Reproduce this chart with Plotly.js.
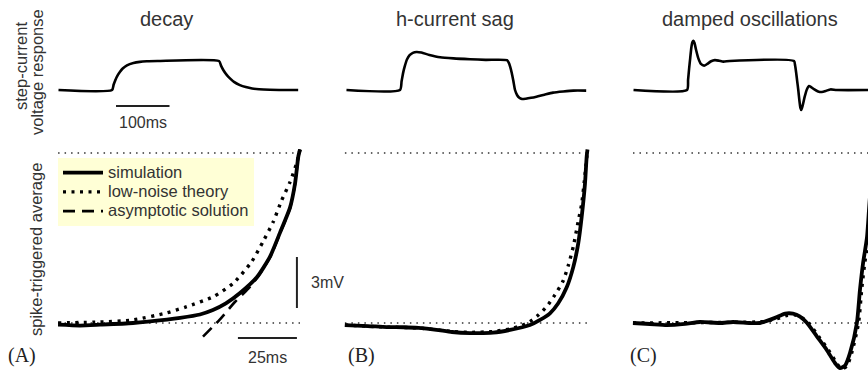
<!DOCTYPE html>
<html>
<head>
<meta charset="utf-8">
<script src="https://cdn.plot.ly/plotly-3.0.1.min.js"></script>
<style>html,body{margin:0;padding:0;background:#fff;}#chart{width:868px;height:373px;}</style>
</head>
<body>
<div id="chart"></div>
<script>
// ---------- Data ----------
// Top row: step-current voltage response (time in ms, normalized voltage)
const decayT = [0, 100, 103, 106, 110, 115, 120, 128, 140, 152, 165, 185, 300, 304, 308, 314, 320, 328, 339, 350, 362, 375, 395, 448];
const decayV = [0, 0, 0.18, 0.33, 0.49, 0.63, 0.74, 0.85, 0.93, 0.97, 0.99, 1.0, 1.0, 0.83, 0.69, 0.53, 0.41, 0.28, 0.17, 0.1, 0.05, 0.025, 0.01, 0];

const sagT = [0, 100, 103, 106, 109, 113, 118, 124, 131, 140, 155, 175, 200, 231, 260, 300, 303, 306, 309, 312, 315, 319, 323, 328, 335, 345, 355, 370, 386, 405, 424, 448];
const sagV = [0, 0, 0.3, 0.6, 0.82, 1.05, 1.2, 1.28, 1.31, 1.29, 1.21, 1.13, 1.09, 1.06, 1.04, 1.03, 0.95, 0.8, 0.58, 0.3, 0.0, -0.18, -0.27, -0.31, -0.3, -0.27, -0.23, -0.16, -0.09, -0.05, -0.02, -0.02];

const oscT = [0, 100, 102, 104, 106, 108, 110, 112, 114, 117, 121, 126, 132, 138, 145, 152, 160, 168, 180, 300, 302, 304, 306, 308, 310, 312, 313.5, 316, 320, 324, 328, 332, 338, 345, 352, 360, 368, 380, 448];
const oscV = [0, 0, 0.35, 0.75, 1.1, 1.45, 1.65, 1.7, 1.62, 1.38, 1.1, 0.9, 0.84, 0.9, 0.99, 1.03, 1.01, 0.98, 1.0, 1.0, 0.85, 0.6, 0.3, 0.0, -0.35, -0.62, -0.69, -0.55, -0.23, 0.02, 0.14, 0.1, 0.02, -0.05, -0.07, -0.03, 0.02, 0.0, 0.0];

// Bottom row: spike-triggered average (time before spike in ms, mV above rest)
const simA_T = [-102.5, -93.2, -84.7, -70.8, -56.4, -50.8, -42.4, -36.9, -31.4, -25.4, -18.2, -12.7, -8.5, -4.2, -2.1, -0.7, 0];
const simA_V = [-0.1, -0.15, -0.1, 0.0, 0.2, 0.3, 0.5, 0.76, 1.15, 1.76, 2.7, 3.9, 5.3, 6.8, 8.2, 9.8, 10.2];
const theoryA_T = [-102.5, -84.7, -70.8, -56.4, -48, -36.7, -28.3, -20.5, -15.6, -11.3, -7.8, -4.2, -1.4, 0];
const theoryA_V = [0.0, 0.06, 0.18, 0.6, 0.96, 1.55, 2.33, 3.6, 4.8, 5.96, 7.2, 8.3, 9.4, 10.2];
const asymA_T = [-41.1, -34, -27.5, -22, -18.2, -12.7, -8.5, -4.2, -2.1, -0.7, 0];
const asymA_V = [-0.8, 0.2, 1.25, 2.0, 2.65, 3.85, 5.25, 6.75, 8.15, 9.75, 10.2];

const simB_T = [-102.8, -93, -85, -78, -71.6, -64, -57.4, -49.8, -40, -32.8, -24.4, -20.1, -15.9, -12.4, -8.8, -6.0, -3.9, -2.46, -1.06, -0.34, 0];
const simB_V = [-0.12, -0.18, -0.24, -0.25, -0.29, -0.4, -0.53, -0.59, -0.57, -0.41, -0.12, 0.18, 0.57, 1.16, 2.1, 3.3, 4.7, 6.25, 8.2, 9.8, 10.2];
const theoryB_T = [-102.8, -85, -71.6, -57.4, -49.8, -40, -32.8, -28, -24.4, -20.8, -17.3, -13.8, -10.25, -8.1, -6.0, -3.9, -2.46, -1.06, 0];
const theoryB_V = [-0.12, -0.24, -0.29, -0.5, -0.55, -0.5, -0.35, -0.15, 0.08, 0.47, 0.96, 1.65, 2.5, 3.4, 4.5, 6.0, 7.0, 8.7, 10.2];

const simC_T = [-103, -95.8, -88.6, -80.9, -74.6, -66.1, -60.6, -53.4, -49.2, -42.8, -38.5, -35.2, -32.2, -29.2, -25, -20.8, -17.4, -15.3, -13.1, -11, -8.1, -6.8, -5.5, -3.8, -2.5, 0];
const simC_V = [0.0, -0.06, -0.12, -0.05, 0.06, 0.0, 0.06, 0.0, 0.0, 0.3, 0.55, 0.55, 0.38, 0.0, -0.8, -1.6, -2.35, -2.65, -2.5, -1.76, 0.0, 1.94, 3.5, 5.06, 7.5, 10.2];
const theoryC_T = [-103, -80, -60, -48, -42, -37.5, -34.5, -31.5, -28.5, -24.3, -20.1, -16.7, -14.6, -12.4, -10.3, -7.4, -6.1, -4.8, -3.1, -1.8, 0];
const theoryC_V = [0.0, 0.02, 0.04, 0.08, 0.25, 0.45, 0.48, 0.33, 0.0, -0.8, -1.6, -2.35, -2.7, -2.55, -1.76, 0.0, 1.94, 3.5, 5.06, 7.5, 10.2];

// reference levels (mV above rest)
const restLevel = 0;
const thresholdLevel = 10;
const staStart = [-102.5, -102.8, -103];
const staEnd = [0, 0, 0];

// labels
const panelTitles = ['decay', 'h-current sag', 'damped oscillations'];
const panelLetters = ['(A)', '(B)', '(C)'];
const legendNames = ['simulation', 'low-noise theory', 'asymptotic solution'];
const scaleTop = 100;   // ms
const scaleBottomT = 25; // ms
const scaleBottomV = 3;  // mV

// ---------- Layout helpers ----------
const W = 868, H = 373;
const SANS = 'Liberation Sans, Arial, Helvetica, sans-serif';
const SERIF = 'Liberation Serif, Times New Roman, serif';
const px = v => v / W;
const py = v => 1 - v / H;

const topDomY = [py(125), py(30)];
const botDomY = [0, py(140)];
const topRangeY = [-1.207, 2.069];
const botRangeY = [-2.94, 10.76];

function hidden(extra) {
  return Object.assign({visible: false, fixedrange: true, showgrid: false, zeroline: false}, extra);
}

const topLine = {color: '#000', width: 2.6, shape: 'spline', smoothing: 0.6};
const simLine = {color: '#000', width: 3.8, shape: 'spline', smoothing: 0.6};
const theoryLine = {color: '#000', width: 3.4, dash: '3px,5.5px', shape: 'spline', smoothing: 0.6};
const asymLine = {color: '#000', width: 2.6, dash: '12px,7px', shape: 'spline', smoothing: 0.6};
const refLine = {color: '#333', width: 1.4, dash: '1.5px,5px'};

const traces = [];
function addTop(t, v, ax) {
  traces.push({x: t, y: v, xaxis: 'x' + ax, yaxis: 'y' + ax, type: 'scatter', mode: 'lines', line: topLine, showlegend: false, hoverinfo: 'skip'});
}
addTop(decayT, decayV, '');
addTop(sagT, sagV, '2');
addTop(oscT, oscV, '3');

const botAx = ['4', '5', '6'];
botAx.forEach((ax, i) => {
  [restLevel, thresholdLevel].forEach(lv => {
    traces.push({x: [staStart[i], staEnd[i]], y: [lv, lv], xaxis: 'x' + ax, yaxis: 'y' + ax, type: 'scatter', mode: 'lines', line: refLine, showlegend: false, hoverinfo: 'skip'});
  });
});

function nm(s) { return '<span style="font-size:16.5px">' + s + '</span>'; }

// Panel A bottom
traces.push({x: theoryA_T, y: theoryA_V, xaxis: 'x4', yaxis: 'y4', type: 'scatter', mode: 'lines', line: theoryLine, name: nm(legendNames[1]), legendrank: 2, showlegend: true});
traces.push({x: asymA_T, y: asymA_V, xaxis: 'x4', yaxis: 'y4', type: 'scatter', mode: 'lines', line: asymLine, name: nm(legendNames[2]), legendrank: 3, showlegend: true});
traces.push({x: simA_T, y: simA_V, xaxis: 'x4', yaxis: 'y4', type: 'scatter', mode: 'lines', line: simLine, name: nm(legendNames[0]), legendrank: 1, showlegend: true});
// Panel B bottom
traces.push({x: theoryB_T, y: theoryB_V, xaxis: 'x5', yaxis: 'y5', type: 'scatter', mode: 'lines', line: theoryLine, showlegend: false});
traces.push({x: simB_T, y: simB_V, xaxis: 'x5', yaxis: 'y5', type: 'scatter', mode: 'lines', line: simLine, showlegend: false});
// Panel C bottom
traces.push({x: theoryC_T, y: theoryC_V, xaxis: 'x6', yaxis: 'y6', type: 'scatter', mode: 'lines', line: theoryLine, showlegend: false});
traces.push({x: simC_T, y: simC_V, xaxis: 'x6', yaxis: 'y6', type: 'scatter', mode: 'lines', line: simLine, showlegend: false});

// scale bars
const barTopX0 = 107.5, barTopY = -0.55;
const barBotX1 = -1.3, barBotY = -0.88, barVY0 = 0.88;
const shapes = [
  {type: 'line', xref: 'x', yref: 'y', x0: barTopX0, x1: barTopX0 + scaleTop, y0: barTopY, y1: barTopY, line: {color: '#222', width: 2}},
  {type: 'line', xref: 'x4', yref: 'y4', x0: barBotX1 - scaleBottomT, x1: barBotX1, y0: barBotY, y1: barBotY, line: {color: '#222', width: 2}},
  {type: 'line', xref: 'x4', yref: 'y4', x0: barBotX1, x1: barBotX1, y0: barVY0, y1: barVY0 + scaleBottomV, line: {color: '#222', width: 2}}
];

const txt = '#333';
const annotations = [];
const titleX = [166, 455.5, 750];
panelTitles.forEach((t, i) => annotations.push({text: t, xref: 'paper', yref: 'paper', x: px(titleX[i]), y: py(19), xanchor: 'center', yanchor: 'middle', showarrow: false, font: {family: SANS, size: 20, color: txt}}));
const letterX = [22, 361, 643];
panelLetters.forEach((t, i) => annotations.push({text: t, xref: 'paper', yref: 'paper', x: px(letterX[i]), y: py(355), xanchor: 'center', yanchor: 'middle', showarrow: false, font: {family: SERIF, size: 20, color: '#222'}}));
annotations.push({text: 'step-current', xref: 'paper', yref: 'paper', x: px(21), y: py(66), textangle: -90, xanchor: 'center', yanchor: 'middle', showarrow: false, font: {family: SANS, size: 16.5, color: txt}});
annotations.push({text: 'voltage response', xref: 'paper', yref: 'paper', x: px(37), y: py(72), textangle: -90, xanchor: 'center', yanchor: 'middle', showarrow: false, font: {family: SANS, size: 16.5, color: txt}});
annotations.push({text: 'spike-triggered average', xref: 'paper', yref: 'paper', x: px(36), y: py(250), textangle: -90, xanchor: 'center', yanchor: 'middle', showarrow: false, font: {family: SANS, size: 16.5, color: txt}});
annotations.push({text: scaleTop + 'ms', xref: 'x', yref: 'paper', x: barTopX0 + scaleTop / 2, y: py(122), xanchor: 'center', yanchor: 'middle', showarrow: false, font: {family: SANS, size: 16, color: txt}});
annotations.push({text: scaleBottomT + 'ms', xref: 'x4', yref: 'paper', x: barBotX1 - scaleBottomT / 2, y: py(357), xanchor: 'center', yanchor: 'middle', showarrow: false, font: {family: SANS, size: 16, color: txt}});
annotations.push({text: scaleBottomV + 'mV', xref: 'paper', yref: 'y4', x: px(309), y: barVY0 + scaleBottomV / 2, xanchor: 'left', yanchor: 'middle', showarrow: false, font: {family: SANS, size: 16, color: txt}});

const layout = {
  width: W, height: H,
  margin: {l: 0, r: 0, t: 0, b: 0, pad: 0},
  paper_bgcolor: '#fff', plot_bgcolor: 'rgba(0,0,0,0)',
  showlegend: true,
  legend: {x: px(58), y: py(158), xanchor: 'left', yanchor: 'top', bgcolor: '#ffffd6', borderwidth: 0,
           font: {family: SANS, size: 12.5, color: txt}, itemwidth: 40, traceorder: 'normal'},
  xaxis: hidden({domain: [px(58), px(300)], range: [-0.93, 451.4]}),
  yaxis: hidden({domain: topDomY, range: topRangeY}),
  xaxis2: hidden({domain: [px(340), px(600)], range: [-12.1, 473.8], anchor: 'y2'}),
  yaxis2: hidden({domain: topDomY, range: topRangeY, anchor: 'x2'}),
  xaxis3: hidden({domain: [px(628), 1], range: [-10.3, 438.3], anchor: 'y3'}),
  yaxis3: hidden({domain: topDomY, range: topRangeY, anchor: 'x3'}),
  xaxis4: hidden({domain: [px(55), px(310)], range: [-103.8, 4.24], anchor: 'y4'}),
  yaxis4: hidden({domain: botDomY, range: botRangeY, anchor: 'x4'}),
  xaxis5: hidden({domain: [px(340), px(600)], range: [-104.87, 5.30], anchor: 'y5'}),
  yaxis5: hidden({domain: botDomY, range: botRangeY, anchor: 'x5'}),
  xaxis6: hidden({domain: [px(628), 1], range: [-105.1, -3.39], anchor: 'y6'}),
  yaxis6: hidden({domain: botDomY, range: botRangeY, anchor: 'x6'}),
  shapes: shapes,
  annotations: annotations
};

Plotly.newPlot('chart', traces, layout, {displayModeBar: false, staticPlot: true});
</script>
</body>
</html>
